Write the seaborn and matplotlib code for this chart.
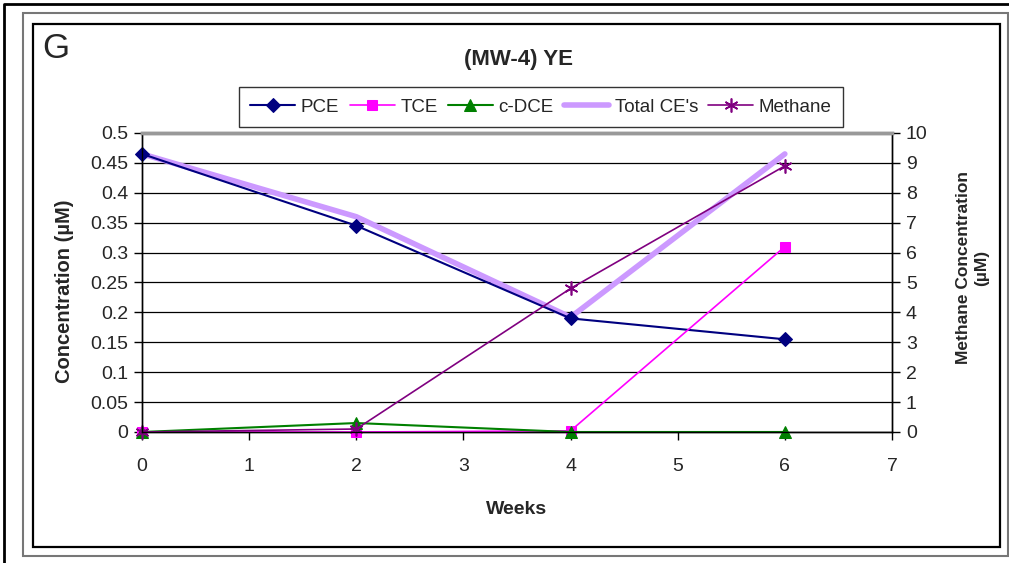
import matplotlib
matplotlib.use("Agg")
import matplotlib.pyplot as plt
from matplotlib.patches import Rectangle
from matplotlib.lines import Line2D
from matplotlib.ticker import FuncFormatter, MultipleLocator
import seaborn as sns

# data (weeks, uM)
weeks = [0, 2, 4, 6]
pce = [0.465, 0.345, 0.19, 0.155]
tce = [0.0, 0.0, 0.002, 0.31]
cdce = [0.0, 0.015, 0.0, 0.0]
total_ce = [0.465, 0.36, 0.192, 0.465]
methane = [0.0, 0.1, 4.8, 8.9]

sns.set_style("white")
plt.rcParams['font.family'] = ['Liberation Sans', 'DejaVu Sans']

fig = plt.figure(figsize=(10.09, 5.63), dpi=100)
ax = fig.add_axes([142 / 1009, 1 - 432 / 563, 750 / 1009, 299 / 563])

# frames around the chart
W, H = 1009, 563
fig.lines.append(Line2D([4 / W, 4 / W, 1.0], [0.0, 1 - 4 / H, 1 - 4 / H], transform=fig.transFigure,
                        color='black', linewidth=2))
for (x0, y0, x1, y1, col, lw) in [(23, 13, 1008, 556, '#777777', 1.5),
                                  (33, 24, 1000, 547, 'black', 1.6)]:
    fig.patches.append(Rectangle((x0 / W, 1 - y1 / H), (x1 - x0) / W, (y1 - y0) / H,
                                 transform=fig.transFigure, fill=False, edgecolor=col,
                                 linewidth=lw, zorder=0))

sns.lineplot(x=weeks, y=total_ce, ax=ax, color='#CC99FF', linewidth=4, label="Total CE's", zorder=2)
sns.lineplot(x=weeks, y=pce, ax=ax, color='#000080', linewidth=1.5, marker='D', markersize=7,
             markeredgecolor='#000080', label='PCE', zorder=3)
sns.lineplot(x=weeks, y=tce, ax=ax, color='#FF00FF', linewidth=1.2, marker='s', markersize=7,
             markeredgecolor='#FF00FF', label='TCE', zorder=3)
sns.lineplot(x=weeks, y=cdce, ax=ax, color='#008000', linewidth=1.5, marker='^', markersize=8,
             markeredgecolor='#008000', label='c-DCE', zorder=3)

ax2 = ax.twinx()
sns.lineplot(x=weeks, y=methane, ax=ax2, color='#800080', linewidth=1.2, marker=(6, 2, 0),
             markersize=10, markeredgecolor='#800080', markeredgewidth=1.2, label='Methane')

for a in (ax, ax2):
    for ln in a.get_lines():
        ln.set_clip_on(False)

ax.set_xlim(0, 7)
ax.set_ylim(0, 0.5)
ax2.set_ylim(0, 10)
ax.xaxis.set_major_locator(MultipleLocator(1))
ax.yaxis.set_major_locator(MultipleLocator(0.05))
ax.yaxis.set_major_formatter(FuncFormatter(lambda v, p: '%g' % round(v, 2)))
ax2.yaxis.set_major_locator(MultipleLocator(1))

ax.grid(axis='y', color='black', linewidth=0.9)
ax.grid(axis='x', visible=False)
ax2.grid(False)

for a in (ax, ax2):
    for s in a.spines.values():
        s.set_color('black')
        s.set_linewidth(1)
    a.spines['top'].set_color('#999999')
    a.spines['top'].set_linewidth(2.5)

ax.tick_params(axis='x', direction='out', length=6, width=1, color='black', labelsize=14, pad=13, bottom=True)
ax.tick_params(axis='y', direction='out', length=6, width=1, color='black', labelsize=14, pad=4, left=True)
ax2.tick_params(axis='y', direction='out', length=6, width=1, color='black', labelsize=14, pad=4, right=True)

ax.set_xlabel('Weeks', fontsize=14, fontweight='bold')
ax.xaxis.set_label_coords(0.5, -0.23)
ax.set_ylabel('Concentration (µM)', fontsize=14.5, fontweight='bold')
ax.yaxis.set_label_coords(-0.09, 0.47)
ax2.set_ylabel('Methane Concentration\n(µM)', fontsize=12.5, fontweight='bold', rotation=90,
               linespacing=1.3)
ax2.yaxis.set_label_coords(1.085, 0.55)

fig.text(518 / W, 1 - 60 / H, '(MW-4) YE', fontsize=16, fontweight='bold', ha='center', va='center')
fig.text(42 / W, 1 - 49 / H, 'G', fontsize=25, ha='left', va='center')

h1, l1 = ax.get_legend_handles_labels()
h2, l2 = ax2.get_legend_handles_labels()
ax.get_legend().remove()
ax2.get_legend().remove()
hmap = dict(zip(l1 + l2, h1 + h2))
order = ['PCE', 'TCE', 'c-DCE', "Total CE's", 'Methane']
leg = fig.legend([hmap[k] for k in order], order, loc='center', ncol=5,
                 bbox_to_anchor=(541 / W, 1 - 107 / H), fontsize=13.5, frameon=True,
                 fancybox=False, edgecolor='black', handlelength=2.4, columnspacing=0.55,
                 handletextpad=0.3, borderpad=0.6, borderaxespad=0)
leg.get_frame().set_linewidth(1)

fig.savefig('out.png', dpi=100)
